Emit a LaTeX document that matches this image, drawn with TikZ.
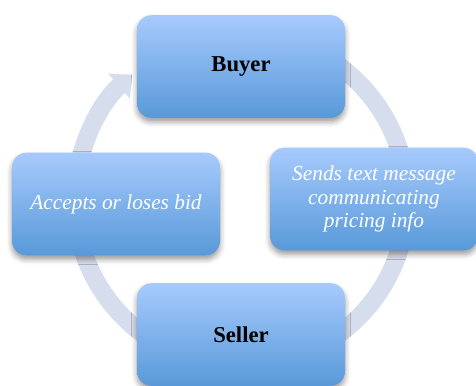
\documentclass[tikz,border=0pt]{standalone}
\usepackage{fontspec}
\setmainfont{Liberation Serif}
\usepackage{tikz}
\usetikzlibrary{arrows.meta,shadows.blur}
\definecolor{boxtop}{RGB}{167,202,253}
\definecolor{boxbot}{RGB}{88,153,217}
\definecolor{ringc}{RGB}{214,221,236}

\begin{document}
\begin{tikzpicture}[x=0.75pt,y=0.75pt]
\tikzstyle{cbox}=[rectangle,rounded corners=11pt,minimum width=156pt,minimum height=77pt,inner sep=2pt,top color=boxtop,bottom color=boxbot,blur shadow={shadow xshift=0pt,shadow yshift=-3pt,shadow blur radius=4pt,shadow opacity=40},align=center]
\tikzstyle{who}=[cbox,text=black,font=\fontsize{17}{17.5}\selectfont\bfseries]
\tikzstyle{act}=[cbox,text=white,font=\fontsize{16}{17.5}\selectfont\itshape]
\tikzstyle{cycle}=[-{Triangle[width=24pt,length=13pt]},line width=13.5pt,ringc]

\useasboundingbox (0,0) rectangle (476,386);
\clip (0,0) rectangle (476,386);
\coordinate (cyc) at (241,186);
\draw[cycle] (cyc) ++(80:166) arc[start angle=80,end angle=-229,radius=166];

\draw[shift={(241,319.5)},color=black] node[who] (buyer) {Buyer};
\draw[shift={(374,187)},color=black] node[act] (sends) {Sends text message\\communicating\\pricing info};
\draw[shift={(241,51.5)},color=black] node[who] (seller) {Seller};
\draw[shift={(116,182)},color=black] node[act] (accepts) {Accepts or loses bid};
\end{tikzpicture}
\end{document}
